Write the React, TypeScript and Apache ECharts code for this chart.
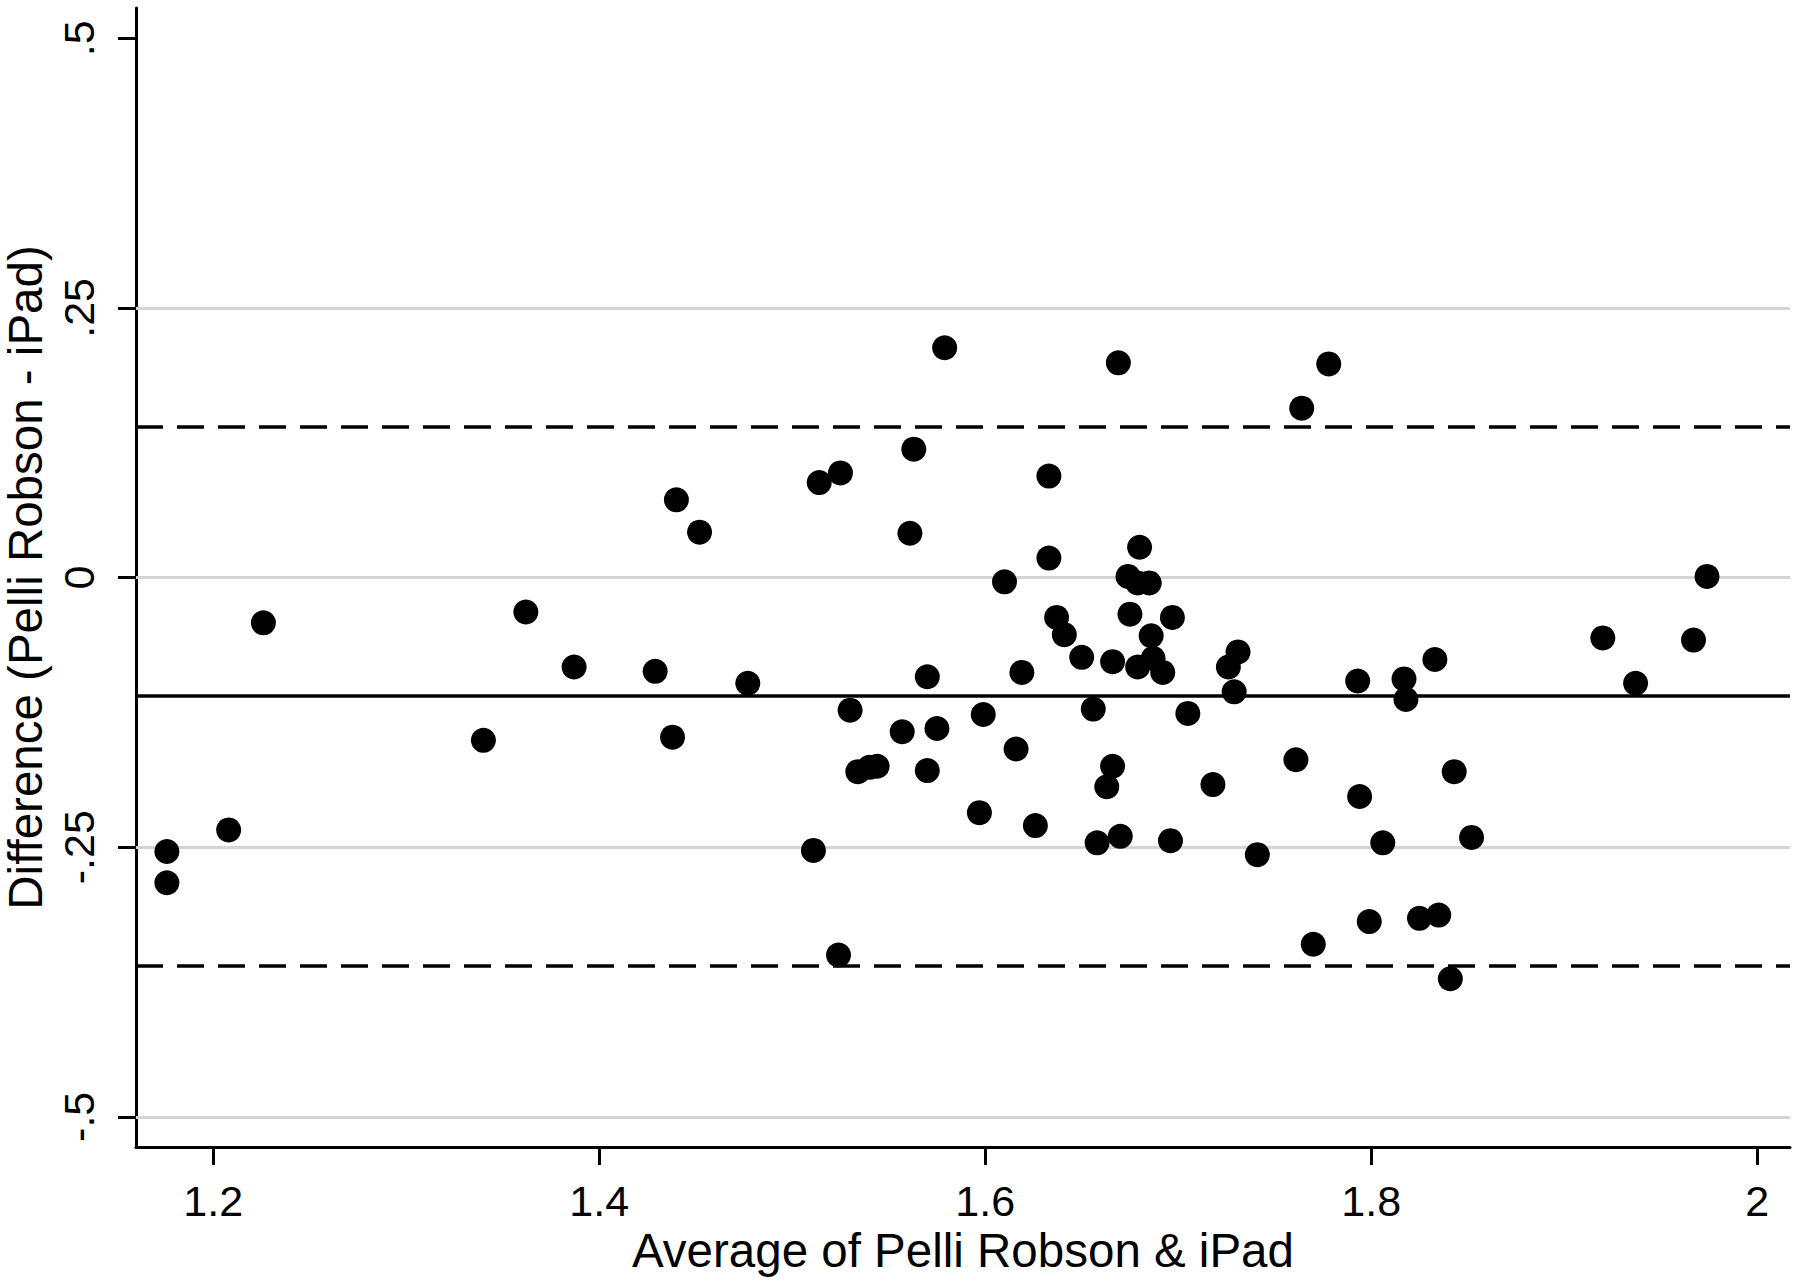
import React, { useEffect, useRef } from "react";
import * as echarts from "echarts";

// Average of Pelli Robson & iPad (x) and Difference (Pelli Robson - iPad) (y)
const avgValues = [
  1.176, 1.176, 1.208, 1.226, 1.340, 1.362, 1.387, 1.429, 1.440, 1.452,
  1.438, 1.477, 1.514, 1.525, 1.563, 1.561, 1.579, 1.570, 1.530, 1.557,
  1.575, 1.599, 1.534, 1.540, 1.544, 1.570, 1.597, 1.511, 1.524, 1.610,
  1.669, 1.778, 1.764, 1.633, 1.633, 1.680, 1.674, 1.679, 1.685, 1.637,
  1.641, 1.675, 1.697, 1.686, 1.650, 1.666, 1.679, 1.687, 1.692, 1.619,
  1.731, 1.726, 1.729, 1.656, 1.705, 1.616, 1.666, 1.663, 1.718, 1.761,
  1.626, 1.658, 1.670, 1.696, 1.741, 1.770, 1.974, 1.920, 1.967, 1.793,
  1.817, 1.833, 1.937, 1.818, 1.843, 1.794, 1.806, 1.852, 1.799, 1.825,
  1.835, 1.841,
];
const diffValues = [
  -0.254, -0.283, -0.234, -0.042, -0.151, -0.032, -0.083, -0.087, 0.072, 0.042,
  -0.148, -0.098, 0.088, 0.097, 0.119, 0.041, 0.213, -0.092, -0.123, -0.143,
  -0.140, -0.127, -0.180, -0.176, -0.175, -0.179, -0.218, -0.253, -0.350, -0.004,
  0.199, 0.198, 0.157, 0.094, 0.018, 0.028, 0.001, -0.005, -0.005, -0.037,
  -0.053, -0.034, -0.037, -0.054, -0.074, -0.078, -0.083, -0.075, -0.088, -0.088,
  -0.069, -0.083, -0.106, -0.122, -0.126, -0.159, -0.175, -0.194, -0.192, -0.169,
  -0.230, -0.246, -0.240, -0.244, -0.257, -0.340, 0.001, -0.056, -0.058, -0.096,
  -0.094, -0.076, -0.098, -0.113, -0.180, -0.203, -0.246, -0.241, -0.319, -0.316,
  -0.313, -0.372,
];

const meanDiff = -0.1098;
const upperLimit = 0.1367;
const lowerLimit = -0.357;

const xTickValues = [1.2, 1.4, 1.6, 1.8, 2];
const yTickValues = [-0.5, -0.25, 0, 0.25, 0.5];
const gridLineValues = [-0.5, -0.25, 0, 0.25];

const xTitle = "Average of Pelli Robson & iPad";
const yTitle = "Difference (Pelli Robson - iPad)";

export default function App() {
  const ref = useRef<HTMLDivElement>(null);

  useEffect(() => {
    if (!ref.current) return;
    const chart = echarts.init(ref.current, null, { renderer: "svg" });
    const font = "'Liberation Sans', Arial, Helvetica, sans-serif";
    const dash = [27, 14];

    chart.setOption({
      animation: false,
      backgroundColor: "#ffffff",
      grid: {
        left: 136,
        right: 10,
        top: 8,
        bottom: 139,
        containLabel: false,
        outerBoundsMode: "none",
      },
      xAxis: {
        type: "value",
        min: 1.16,
        max: 2.017,
        name: xTitle,
        nameLocation: "middle",
        nameGap: 79,
        nameTextStyle: { fontFamily: font, fontSize: 47.5, color: "#000" },
        axisLine: { show: true, onZero: false, lineStyle: { color: "#000", width: 3 } },
        axisTick: {
          show: true,
          length: 18,
          customValues: xTickValues,
          lineStyle: { color: "#000", width: 3 },
        },
        axisLabel: {
          customValues: xTickValues,
          margin: 32,
          fontFamily: font,
          fontSize: 43,
          color: "#000",
          formatter: (v: number) => String(v),
        },
        splitLine: { show: false },
      },
      yAxis: {
        type: "value",
        min: -0.528,
        max: 0.528,
        name: yTitle,
        nameLocation: "middle",
        nameGap: 71,
        nameTextStyle: { fontFamily: font, fontSize: 47.5, color: "#000" },
        axisLine: { show: true, onZero: false, lineStyle: { color: "#000", width: 3 } },
        axisTick: {
          show: true,
          length: 18,
          customValues: yTickValues,
          lineStyle: { color: "#000", width: 3 },
        },
        axisLabel: {
          customValues: yTickValues,
          rotate: 90,
          margin: 36,
          fontFamily: font,
          fontSize: 43,
          color: "#000",
          formatter: (v: number) => (v === 0 ? "0" : String(v).replace("0.", ".")),
        },
        splitLine: { show: false },
      },
      series: [
        {
          type: "line",
          data: [],
          z: 1,
          silent: true,
          markLine: {
            z: 1,
            silent: true,
            symbol: "none",
            label: { show: false },
            lineStyle: { color: "#d4d4d4", width: 3, type: "solid" },
            data: gridLineValues.map((v) => ({ yAxis: v })),
          },
        },
        {
          type: "line",
          data: [],
          z: 2,
          silent: true,
          markLine: {
            z: 2,
            silent: true,
            symbol: "none",
            label: { show: false },
            lineStyle: { color: "#000", width: 3.5 },
            data: [
              { yAxis: upperLimit, lineStyle: { type: dash, color: "#000", width: 3.5 } },
              { yAxis: meanDiff, lineStyle: { type: "solid", color: "#000", width: 3.5 } },
              { yAxis: lowerLimit, lineStyle: { type: dash, color: "#000", width: 3.5 } },
            ],
          },
        },
        {
          type: "scatter",
          z: 3,
          symbol: "circle",
          symbolSize: 25,
          itemStyle: { color: "#000", opacity: 1 },
          data: avgValues.map((x, i) => [x, diffValues[i]]),
        },
      ],
    });

    return () => chart.dispose();
  }, []);

  return (
    <div
      ref={ref}
      style={{ position: "absolute", left: 0, top: 0, width: 1800, height: 1286 }}
    />
  );
}
